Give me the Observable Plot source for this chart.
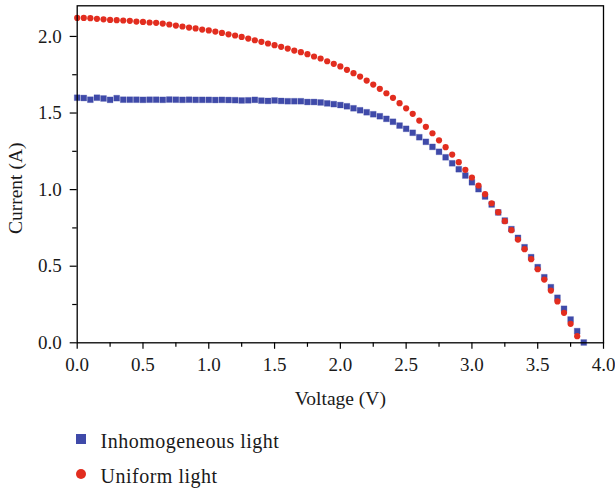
<!DOCTYPE html>
<html>
<head>
<meta charset="utf-8">
<script src="https://cdn.jsdelivr.net/npm/d3@7"></script>
<script src="https://cdn.jsdelivr.net/npm/@observablehq/plot@0.6"></script>
<style>
  html, body { margin: 0; padding: 0; background: #fff; }
  #wrap { position: relative; width: 615px; height: 490px; overflow: hidden; font-family: "Liberation Serif", "Times New Roman", serif; color: #1a1a1a; }
  #legend { position: absolute; left: 0; top: 420px; width: 615px; height: 70px; }
  .sym { position: absolute; width: 10px; height: 10px; }
  .lab { position: absolute; left: 100.5px; font-size: 20px; line-height: 20px; letter-spacing: 0.5px; white-space: nowrap; }
</style>
</head>
<body>
<div id="wrap">
  <div id="chart"></div>
  <div id="legend"></div>
</div>
<script>
// ---- data ----
const voltageUniform = [0.00,0.05,0.10,0.15,0.20,0.25,0.30,0.35,0.40,0.45,0.50,0.55,0.60,0.65,0.70,0.75,0.80,0.85,0.90,0.95,1.00,1.05,1.10,1.15,1.20,1.25,1.30,1.35,1.40,1.45,1.50,1.55,1.60,1.65,1.70,1.75,1.80,1.85,1.90,1.95,2.00,2.05,2.10,2.15,2.20,2.25,2.30,2.35,2.40,2.45,2.50,2.55,2.60,2.65,2.70,2.75,2.80,2.85,2.90,2.95,3.00,3.05,3.10,3.15,3.20,3.25,3.30,3.35,3.40,3.45,3.50,3.55,3.60,3.65,3.70,3.75,3.80];
const currentUniform = [2.121,2.121,2.119,2.115,2.112,2.108,2.106,2.104,2.102,2.097,2.095,2.091,2.089,2.084,2.078,2.071,2.065,2.058,2.052,2.045,2.039,2.032,2.023,2.014,2.006,1.997,1.986,1.975,1.965,1.954,1.943,1.932,1.921,1.908,1.897,1.884,1.869,1.856,1.838,1.821,1.804,1.782,1.760,1.738,1.712,1.686,1.658,1.629,1.599,1.564,1.531,1.495,1.451,1.410,1.368,1.322,1.277,1.229,1.179,1.129,1.079,1.027,0.970,0.911,0.853,0.794,0.735,0.674,0.611,0.546,0.480,0.413,0.341,0.270,0.196,0.124,0.043];

const voltageInhomo = [0.00,0.05,0.10,0.15,0.20,0.25,0.30,0.35,0.40,0.45,0.50,0.55,0.60,0.65,0.70,0.75,0.80,0.85,0.90,0.95,1.00,1.05,1.10,1.15,1.20,1.25,1.30,1.35,1.40,1.45,1.50,1.55,1.60,1.65,1.70,1.75,1.80,1.85,1.90,1.95,2.00,2.05,2.10,2.15,2.20,2.25,2.30,2.35,2.40,2.45,2.50,2.55,2.60,2.65,2.70,2.75,2.80,2.85,2.90,2.95,3.00,3.05,3.10,3.15,3.20,3.25,3.30,3.35,3.40,3.45,3.50,3.55,3.60,3.65,3.70,3.75,3.80,3.85];
const currentInhomo = [1.600,1.598,1.587,1.600,1.595,1.586,1.597,1.587,1.587,1.587,1.586,1.587,1.587,1.586,1.588,1.587,1.586,1.587,1.586,1.586,1.586,1.585,1.586,1.585,1.584,1.582,1.583,1.586,1.581,1.579,1.582,1.579,1.577,1.577,1.577,1.572,1.572,1.569,1.563,1.558,1.552,1.544,1.531,1.518,1.505,1.492,1.479,1.462,1.443,1.418,1.397,1.371,1.342,1.312,1.279,1.247,1.211,1.172,1.133,1.092,1.048,1.003,0.955,0.903,0.851,0.798,0.742,0.685,0.624,0.559,0.494,0.428,0.363,0.294,0.222,0.152,0.076,0.002];

const seriesNames = ["Inhomogeneous light", "Uniform light"];
const seriesColors = ["#3f4aa9", "#e22d1f"];
const xMajorTicks = [0, 0.5, 1.0, 1.5, 2.0, 2.5, 3.0, 3.5, 4.0];
const xMinorTicks = [0.25, 0.75, 1.25, 1.75, 2.25, 2.75, 3.25, 3.75];
const yMajorTicks = [0, 0.5, 1.0, 1.5, 2.0];
const yMinorTicks = [0.25, 0.75, 1.25, 1.75];
const xLabel = "Voltage (V)";
const yLabel = "Current (A)";

const inhomo = voltageInhomo.map((v, i) => ({v, c: currentInhomo[i]}));
const uniform = voltageUniform.map((v, i) => ({v, c: currentUniform[i]}));
const fmt = d3.format(".1f");

const chart = Plot.plot({
  width: 615,
  height: 420,
  marginLeft: 76.7,
  marginRight: 12,
  marginTop: 5.3,
  marginBottom: 77.7,
  style: { fontFamily: "'Liberation Serif', 'Times New Roman', serif", fontSize: "19px", color: "#1a1a1a", background: "transparent" },
  x: { domain: [0, 4], label: null },
  y: { domain: [0, 2.2], label: null },
  marks: [
    Plot.axisX(xMajorTicks, { tickSize: 6.5, tickPadding: 8, tickFormat: fmt, label: null, stroke: "#000", strokeWidth: 1.2, strokeOpacity: 1, fontSize: 19 }),
    Plot.axisX(xMinorTicks, { tickSize: 4.5, tickFormat: () => "", label: null, stroke: "#000", strokeWidth: 1.2, strokeOpacity: 1 }),
    Plot.axisY(yMajorTicks, { tickSize: 7, tickPadding: 8.5, tickFormat: fmt, label: null, stroke: "#000", strokeWidth: 1.2, strokeOpacity: 1, fontSize: 19 }),
    Plot.axisY(yMinorTicks, { tickSize: 4.5, tickFormat: () => "", label: null, stroke: "#000", strokeWidth: 1.2, strokeOpacity: 1 }),
    Plot.dot(inhomo, { x: "v", y: "c", symbol: "square", r: 3.3, fill: seriesColors[0], stroke: seriesColors[0], strokeOpacity: 0.35, strokeWidth: 0.8 }),
    Plot.dot(uniform, { x: "v", y: "c", symbol: "circle", r: 3.1, fill: seriesColors[1] }),
    Plot.frame({ stroke: "#000", strokeWidth: 1.3 }),
    Plot.text([xLabel], { text: d => d, frameAnchor: "bottom", textAnchor: "middle", dy: 62, lineAnchor: "bottom", fontSize: 19.5, fill: "#1a1a1a" }),
    Plot.text([yLabel], { text: d => d, frameAnchor: "left", textAnchor: "middle", rotate: -90, dx: -61, dy: 14, lineAnchor: "middle", fontSize: 19.5, fill: "#1a1a1a" })
  ]
});
document.getElementById("chart").appendChild(chart);

// legend below the chart
const legend = document.getElementById("legend");
const rows = [
  { name: seriesNames[0], color: seriesColors[0], shape: "square", symTop: 14, labTop: 11.3 },
  { name: seriesNames[1], color: seriesColors[1], shape: "circle", symTop: 49.3, labTop: 46 }
];
rows.forEach(r => {
  const s = document.createElement("div");
  s.className = "sym";
  s.style.left = "76px";
  s.style.top = r.symTop + "px";
  s.style.background = r.color;
  if (r.shape === "circle") s.style.borderRadius = "50%";
  legend.appendChild(s);
  const t = document.createElement("div");
  t.className = "lab";
  t.style.top = r.labTop + "px";
  t.textContent = r.name;
  legend.appendChild(t);
});
</script>
</body>
</html>
